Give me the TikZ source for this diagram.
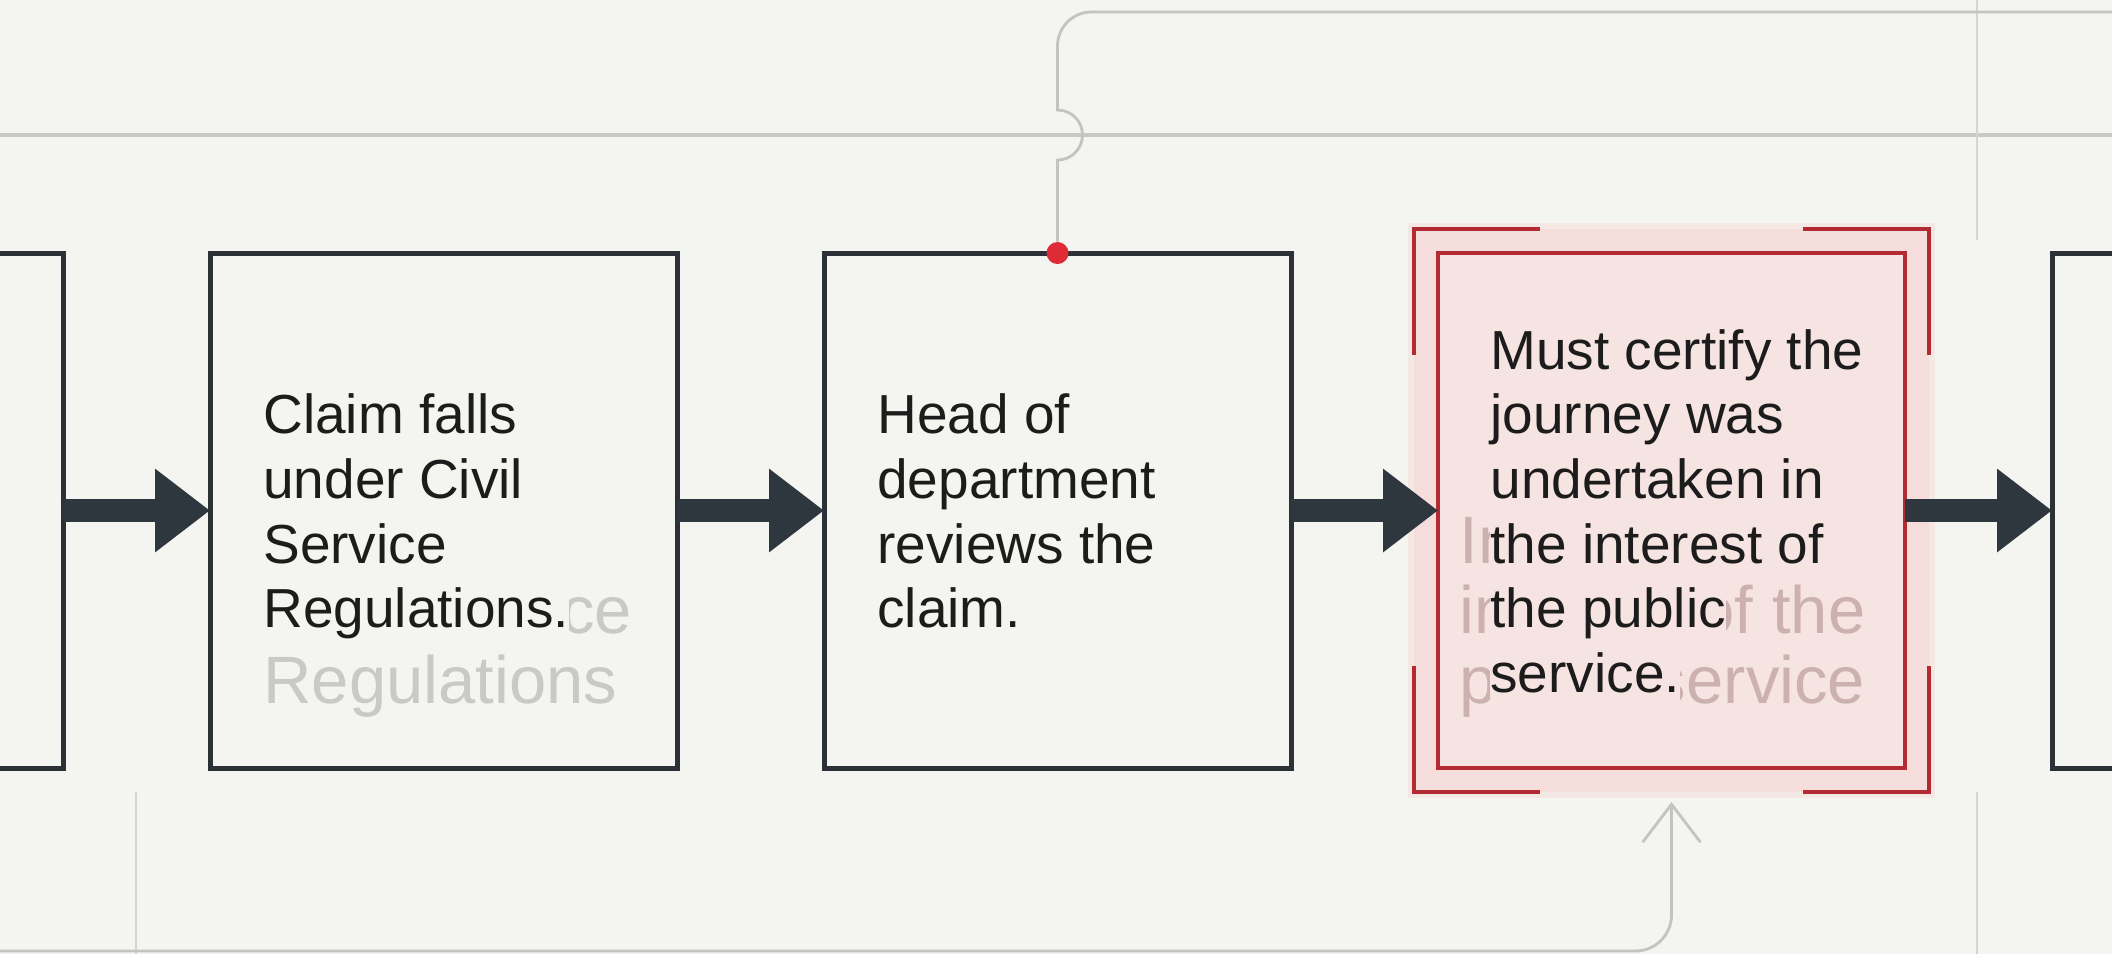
\documentclass[tikz,border=0pt]{standalone}
\usepackage{fontspec}
\setmainfont{Liberation Sans}
\usetikzlibrary{arrows.meta, positioning, backgrounds}

\definecolor{paper}{HTML}{F4F4F0}
\definecolor{ink}{HTML}{1C1C1C}
\definecolor{boxline}{HTML}{2B3137}
\definecolor{flow}{HTML}{2F373E}
\definecolor{wiregray}{HTML}{C3C3C0}
\definecolor{gridgray}{HTML}{C8C8C5}
\definecolor{thingray}{HTML}{D4D4D1}
\definecolor{hlred}{HTML}{B32A33}
\definecolor{hlpink}{HTML}{F5DDDC}
\definecolor{hlpinkin}{HTML}{F6E4E2}
\definecolor{dotred}{HTML}{DE2B35}
\definecolor{ghostgray}{HTML}{C9C9C6}
\definecolor{ghostpink}{HTML}{CDB1B0}

% one line of text on an opaque strip
\newcommand{\cover}[2]{{\setlength{\fboxsep}{0pt}\colorbox{#1}{\strut #2}}}

\tikzset{
  stepbox/.style={draw=boxline, line width=2.5pt, fill=paper, minimum width=233.5pt,
    minimum height=257.5pt, outer sep=0pt, inner sep=0pt},
  hlbox/.style={stepbox, draw=hlred, line width=2pt, fill=hlpinkin},
  steptext/.style={anchor=west, align=left, inner sep=0pt, text=ink,
    font=\fontsize{27.5}{32.3}\selectfont},
  ghosttext/.style={anchor=base west, inner sep=0pt, font=\fontsize{33.5}{35}\selectfont},
  flowarrow/.style={draw=flow, line width=11.5pt, -{Triangle[length=27.5pt, width=40pt]}},
  wire/.style={draw=wiregray, line width=1.4pt},
  bracket/.style={draw=hlred, line width=2pt},
}

\begin{document}
\begin{tikzpicture}[x=0.5pt, y=-0.5pt]

% page
\begin{scope}[on background layer]
  \fill[paper] (0,0) rectangle (2112,954);
\end{scope}
\useasboundingbox (0,0) rectangle (2112,954);
\clip (0,0) rectangle (2112,954);

% guide lines
\draw[gridgray, line width=1.6pt] (0,135) -- (2112,135);
\draw[thingray, line width=1pt] (1977,0) -- (1977,240);
\draw[thingray, line width=1pt] (1977,792) -- (1977,954);
\draw[thingray, line width=1pt] (136,792) -- (136,954);

% steps
\node[stepbox] (box1) at (443.5,510.5) {};
\node[stepbox, left=73.5pt of box1] (box0) {};
\node[stepbox, right=73.5pt of box1] (box2) {};
\node[hlbox, right=73.5pt of box2] (rev) {};
\node[stepbox, right=73.5pt of rev] (box4) {};

% pink field behind the highlighted step
\begin{scope}[on background layer]
  \fill[hlpink, opacity=0.5] ([shift={(-15pt,15pt)}]rev.north west) rectangle ([shift={(15pt,-15pt)}]rev.south east);
  \fill[hlpink] ([shift={(-12pt,12pt)}]rev.north west) rectangle ([shift={(12pt,-12pt)}]rev.south east);
\end{scope}

% corner brackets
\foreach \a/\h/\v in {north west/1/-1, north east/-1/-1, south west/1/1, south east/-1/1}
{
    \draw[bracket] ([shift={(-12pt*\h,-12pt*\v)}]rev.\a) ++(63pt*\h,0) -- ++(-63pt*\h,0) -- ++(0,63pt*\v);
}

% marker and the line leaving the top
\node[circle, fill=dotred, inner sep=0pt, minimum size=11pt] (tap) at (box2.north) {};
\coordinate (topend) at (2112,12);
\draw[wire] (tap) -- (tap |- 0,160) arc[start angle=-90, end angle=90, radius=12.5pt]
  [rounded corners=17pt] -- (tap |- 0,12) -- (topend);

% line coming in from below
\coordinate (botstart) at (0,951);
\draw[wire, -{Straight Barb[length=19pt, width=29pt]}, rounded corners=18pt]
  (botstart) -| ([yshift=-17pt]rev.south);

% flow arrows
\foreach \a/\b in {box0/box1, box1/box2, box2/rev, rev/box4}
{
    \draw[flowarrow] (\a) -- (\b);
}

% faded text
\foreach \txt [count=\i] in {Civil, Civil Service, Regulations}
{
    \node[ghosttext, text=ghostgray] (ghostA\i) at ([xshift=26.5pt, yshift={-26.25pt-35pt*(\i-1)}]box1.west) {\txt};
}
\foreach \txt [count=\i] in {In the, interest of the, public service}
{
    \node[ghosttext, text=ghostpink] (ghostB\i) at ([xshift=10.5pt, yshift={-26.25pt-35pt*(\i-1)}]rev.west) {\txt};
}

% step texts
\node[steptext] (txt1) at ([xshift=26.5pt, yshift=-3.7pt]box1.west)
  {\cover{paper}{Claim falls}\\ \cover{paper}{under Civil}\\ \cover{paper}{Service}\\ \cover{paper}{Regulations.}};
\node[steptext] (txt2) at ([xshift=26.5pt, yshift=-3.7pt]box2.west)
  {\cover{paper}{Head of}\\ \cover{paper}{department}\\ \cover{paper}{reviews the}\\ \cover{paper}{claim.}};
\node[steptext] (txt3) at ([xshift=26pt, yshift=-3.7pt]rev.west)
  {\cover{hlpinkin}{Must certify the}\\ \cover{hlpinkin}{journey was}\\ \cover{hlpinkin}{undertaken in}\\
   \cover{hlpinkin}{the interest of}\\ \cover{hlpinkin}{the public}\\ \cover{hlpinkin}{service.}};

\end{tikzpicture}
\end{document}
